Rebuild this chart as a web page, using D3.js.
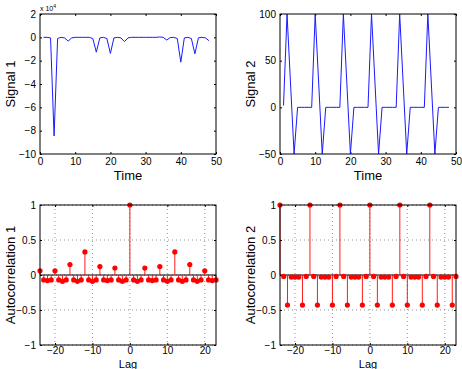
<!DOCTYPE html>
<html><head><meta charset="utf-8">
<script src="https://cdn.jsdelivr.net/npm/d3@7"></script>
<style>body{margin:0;background:#fff}svg{display:block;font-family:"Liberation Sans",Arial,Helvetica,sans-serif}</style>
</head><body><svg id="c" width="462" height="369"></svg>
<script>
// ---- data ----
const time = d3.range(1, 49);
const signal1 = [0,0,-500,-84500,-1000,0,-500,-3200,-500,0,0,0,0,0,-1000,-12700,-500,0,-1000,-13800,-500,0,-500,-3700,-500,0,0,0,0,0,0,0,0,300,0,-2300,-200,0,-1000,-21300,-500,0,-1000,-14100,-500,0,-500,-2900];
const signal2 = [2,100,25,-50,0,0,0,0, 0,100,25,-50,0,0,0,0, 0,100,25,-50,0,0,0,0, 0,100,25,-50,0,0,0,0, 0,100,25,-50,0,0,0,0, 0,100,25,-50,0,0,0,0];
const lags = d3.range(-24, 24);
const acf1 = [0.06,-0.07,-0.08,-0.07, 0.06,-0.07,-0.09,-0.07, 0.15,-0.07,-0.09,-0.07, 0.33,-0.07,-0.09,-0.07, 0.12,-0.07,-0.08,-0.07, 0.10,-0.07,-0.09,-0.07,
              1.00,-0.07,-0.09,-0.07, 0.10,-0.07,-0.08,-0.07, 0.12,-0.07,-0.09,-0.07, 0.33,-0.07,-0.09,-0.07, 0.15,-0.07,-0.09,-0.07, 0.06,-0.07,-0.08,-0.07];
const acf2 = [1,-0.02,-0.43,-0.03,-0.03,-0.03,-0.43,-0.02, 1,-0.02,-0.43,-0.03,-0.03,-0.03,-0.43,-0.02, 1,-0.02,-0.43,-0.03,-0.03,-0.03,-0.43,-0.02,
              1,-0.02,-0.43,-0.03,-0.03,-0.03,-0.43,-0.02, 1,-0.02,-0.43,-0.03,-0.03,-0.03,-0.43,-0.02, 1,-0.02,-0.43,-0.03,-0.03,-0.03,-0.43,-0.02];
const timeTicks = [0,10,20,30,40,50];
const sig1Ticks = [20000,0,-20000,-40000,-60000,-80000,-100000];
const sig2Ticks = [100,50,0,-50];
const lagTicks = [-20,-10,0,10,20];
const acfTicks = [1,0.5,0,-0.5,-1];

const svg = d3.select("#c");
const W = 176, H = 140;
const fmt = d => (d < 0 ? "\u2212" + Math.abs(d) : String(d));

function panel(x0, y0, xDom, yDom, xTicks, yTicks, yFmt, xLabel, yLabel, grid, xPad, xLabelDy, xLabelSize) {
  const g = svg.append("g").attr("transform", `translate(${x0},${y0})`);
  const x = d3.scaleLinear().domain(xDom).range([0, W]);
  const y = d3.scaleLinear().domain(yDom).range([H, 0]);
  if (grid) {
    g.append("g").selectAll("line").data(xTicks).join("line")
      .attr("x1", d => x(d)).attr("x2", d => x(d)).attr("y1", 0).attr("y2", H)
      .attr("stroke", "#777").attr("stroke-width", 0.8).attr("stroke-dasharray", "1,3");
    g.append("g").selectAll("line").data(yTicks).join("line")
      .attr("y1", d => y(d)).attr("y2", d => y(d)).attr("x1", 0).attr("x2", W)
      .attr("stroke", "#777").attr("stroke-width", 0.8).attr("stroke-dasharray", "1,3");
  }
  const style = a => { a.select(".domain").remove(); a.selectAll("text").attr("font-size", 10).attr("fill", "#000"); a.selectAll("line").attr("stroke", "#000"); };
  g.append("g").attr("transform", `translate(0,${H})`)
    .call(d3.axisBottom(x).tickValues(xTicks).tickSize(-2).tickPadding(xPad).tickFormat(fmt)).call(style);
  g.append("g").call(d3.axisTop(x).tickValues(xTicks).tickSize(-2).tickFormat("")).call(style);
  g.append("g").call(d3.axisLeft(y).tickValues(yTicks).tickSize(-2).tickPadding(4).tickFormat(yFmt)).call(style);
  g.append("g").attr("transform", `translate(${W},0)`)
    .call(d3.axisRight(y).tickValues(yTicks).tickSize(-2).tickFormat("")).call(style);
  g.append("text").attr("x", W / 2).attr("y", H + xLabelDy).attr("text-anchor", "middle")
    .attr("font-size", xLabelSize).text(xLabel);
  g.append("text").attr("transform", `translate(${-25},${H / 2}) rotate(-90)`)
    .attr("text-anchor", "middle").attr("font-size", 13).text(yLabel);
  return { g, x, y };
}

function linePanel(p, xs, ys) {
  p.g.append("path").datum(xs.map((t, i) => [t, ys[i]]))
    .attr("fill", "none").attr("stroke", "#1a1aff").attr("stroke-width", 1)
    .attr("d", d3.line().x(d => p.x(d[0])).y(d => p.y(d[1])));
}

function stemPanel(p, xs, ys) {
  const pts = xs.map((l, i) => [l, ys[i]]);
  p.g.append("line").attr("x1", 0).attr("x2", W).attr("y1", p.y(0)).attr("y2", p.y(0))
    .attr("stroke", "#000").attr("stroke-width", 1);
  p.g.append("g").selectAll("line").data(pts).join("line")
    .attr("x1", d => p.x(d[0])).attr("x2", d => p.x(d[0]))
    .attr("y1", p.y(0)).attr("y2", d => p.y(d[1]))
    .attr("stroke", "#ff0000").attr("stroke-width", 0.9);
  p.g.append("g").selectAll("circle").data(pts).join("circle")
    .attr("cx", d => p.x(d[0])).attr("cy", d => p.y(d[1])).attr("r", 2.6)
    .attr("fill", "#ff0000");
}

function box(p) {
  p.g.append("rect").attr("width", W).attr("height", H).attr("fill", "none").attr("stroke", "#000").attr("stroke-width", 1);
}

const p1 = panel(40, 14, [0, 50], [-100000, 20000], timeTicks, sig1Ticks, d => fmt(d / 10000), "Time", "Signal 1", false, 4, 26, 13);
linePanel(p1, time, signal1); box(p1);
const ex = svg.append("text").attr("x", 40).attr("y", 11).attr("font-size", 7);
ex.append("tspan").text("x 10");
ex.append("tspan").attr("dy", -3).attr("font-size", 5).text("4");

const p2 = panel(280, 14, [0, 50], [-50, 100], timeTicks, sig2Ticks, fmt, "Time", "Signal 2", false, 4, 26, 13);
linePanel(p2, time, signal2); box(p2);

const p3 = panel(40, 205, [-24, 23], [-1, 1], lagTicks, acfTicks, fmt, "Lag", "Autocorrelation 1", true, 2, 22.5, 11);
stemPanel(p3, lags, acf1); box(p3);

const p4 = panel(280, 205, [-24, 23], [-1, 1], lagTicks, acfTicks, fmt, "Lag", "Autocorrelation 2", true, 2, 22.5, 11);
stemPanel(p4, lags, acf2); box(p4);
</script></body></html>
